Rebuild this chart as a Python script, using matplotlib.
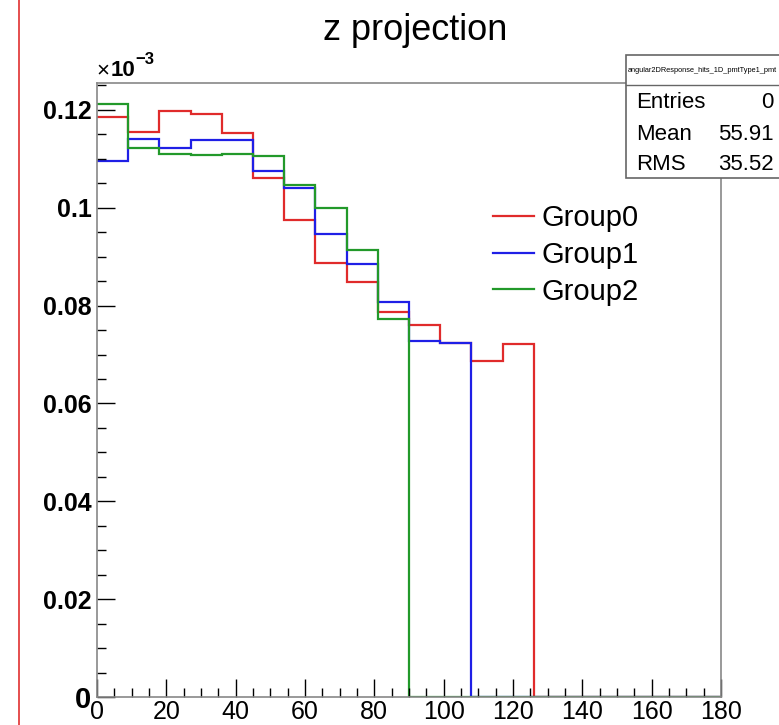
import matplotlib.pyplot as plt
from matplotlib.lines import Line2D
from matplotlib.patches import Rectangle
from matplotlib.ticker import MultipleLocator, FixedLocator, FixedFormatter
import numpy as np

plt.rcParams['font.family'] = ['Liberation Sans', 'DejaVu Sans']

# 20 bins of width 9 over 0..180
edges = np.arange(0, 181, 9)
group0 = [0.1185, 0.1154, 0.1197, 0.1191, 0.1153, 0.1061, 0.0974, 0.0888, 0.0849, 0.0787,
          0.0761, 0.0723, 0.0686, 0.0722, 0, 0, 0, 0, 0, 0]
group1 = [0.1095, 0.1141, 0.1123, 0.1139, 0.1138, 0.1076, 0.1040, 0.0946, 0.0885, 0.0807,
          0.0727, 0.0723, 0, 0, 0, 0, 0, 0, 0, 0]
group2 = [0.1213, 0.1123, 0.1110, 0.1108, 0.1110, 0.1106, 0.1046, 0.0999, 0.0914, 0.0773,
          0, 0, 0, 0, 0, 0, 0, 0, 0, 0]
names = ["Group0", "Group1", "Group2"]
colors = ["#e02b2b", "#1f1fe6", "#22992a"]

ytick_vals = [0, 0.02, 0.04, 0.06, 0.08, 0.1, 0.12]
ytick_labels = ["0", "0.02", "0.04", "0.06", "0.08", "0.1", "0.12"]

stats_title = "angular2DResponse_hits_1D_pmtType1_pmt"
stats_rows = [("Entries", "0"), ("Mean", "55.91"), ("RMS", "35.52")]

W, H = 779, 725
fig = plt.figure(figsize=(W / 100, H / 100), dpi=100)
ax = fig.add_axes([97 / W, 1 - 697 / H, (721 - 97) / W, (697 - 83) / H])

for vals, name, c in zip([group0, group1, group2], names, colors):
    ax.stairs(vals, edges, baseline=None, color=c, lw=1.6, label=name)

ax.set_xlim(0, 180)
ax.set_ylim(0, 0.1255)

ax.xaxis.set_major_locator(MultipleLocator(20))
ax.xaxis.set_minor_locator(MultipleLocator(5))
ax.yaxis.set_major_locator(FixedLocator(ytick_vals))
ax.yaxis.set_major_formatter(FixedFormatter(ytick_labels))
ax.yaxis.set_minor_locator(MultipleLocator(0.005))

ax.tick_params(which='both', direction='in', color='black', width=1)
ax.tick_params(which='major', length=13)
ax.tick_params(which='minor', length=6.5)
ax.tick_params(axis='x', labelsize=18, pad=2)
ax.tick_params(axis='y', labelsize=18, pad=4)
for lab in ax.get_yticklabels():
    lab.set_fontweight('bold')
ax.get_yticklabels()[0].set_fontsize(21)
for s in ax.spines.values():
    s.set_color('#888888')
    s.set_linewidth(1.2)

# exponent label above the y axis
fig.text(96 / W, 1 - 71 / H, "×", fontsize=16, va='center', ha='left')
fig.text(111 / W, 1 - 71 / H, "10", fontsize=16, fontweight='bold', va='center', ha='left')
fig.text(135 / W, 1 - 60 / H, "−3", fontsize=12, fontweight='bold', va='center', ha='left')

fig.text(415 / W, 1 - 30 / H, "z projection", fontsize=26, ha='center', va='center')

ax.legend(loc='upper left', bbox_to_anchor=(493 / W, 1 - 204 / H), bbox_transform=fig.transFigure,
          frameon=False, fontsize=21, handlelength=1.4, handletextpad=0.25, labelspacing=0.3,
          borderpad=0, borderaxespad=0)

# stats box
bx = 626
fig.add_artist(Rectangle((bx / W, 1 - 178 / H), (790 - bx) / W, (178 - 55) / H,
                         transform=fig.transFigure, facecolor='white', edgecolor='#666666', lw=1.2))
fig.add_artist(Line2D([bx / W, 1], [1 - 85 / H] * 2, transform=fig.transFigure, color='#666666', lw=1))
fig.text((bx + 2) / W, 1 - 70 / H, stats_title, fontsize=5.3, ha='left', va='center')
for i, (k, v) in enumerate(stats_rows):
    y = 1 - (103 + 31 * i) / H
    fig.text((bx + 10) / W, y, k, fontsize=16, ha='left', va='center')
    fig.text(774 / W, y, v, fontsize=16, ha='right', va='center')

fig.add_artist(Line2D([19 / W] * 2, [0, 1], transform=fig.transFigure, color='#e03030', lw=1.2))

fig.savefig("out.png", dpi=100)
